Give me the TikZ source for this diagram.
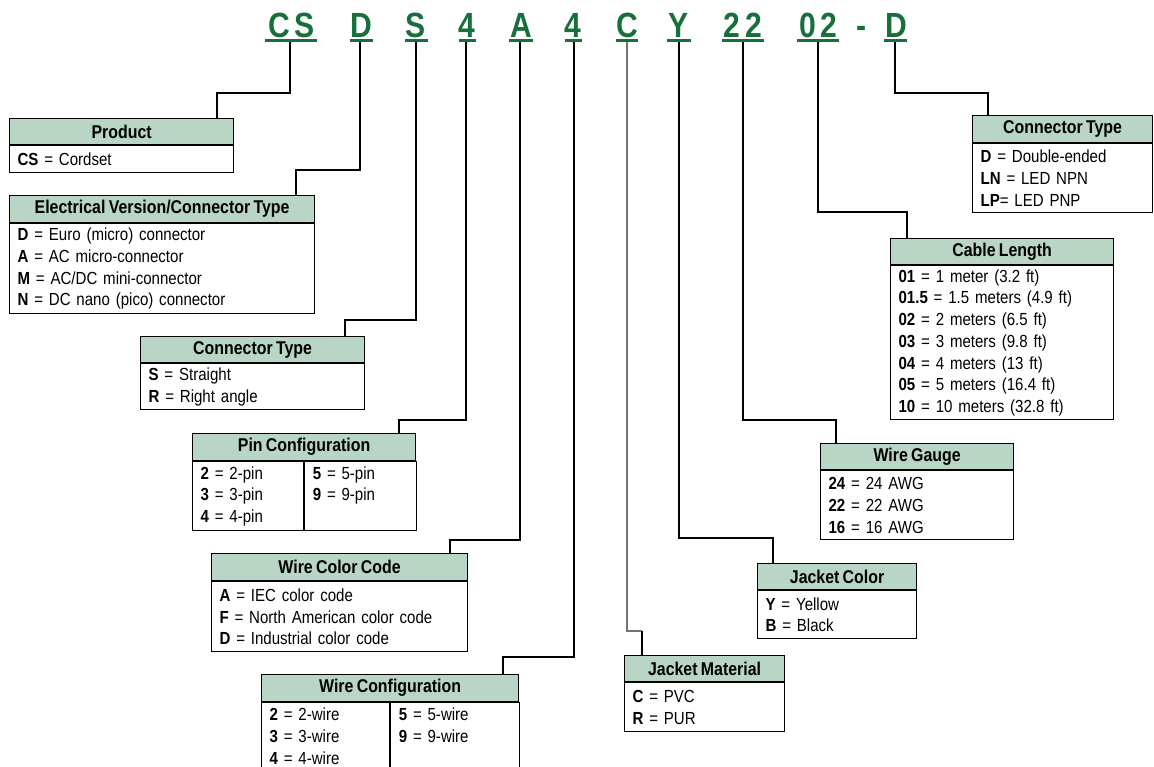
\documentclass[tikz,border=0pt]{standalone}
\usepackage{fontspec}
\setmainfont{Liberation Sans}[FakeStretch=0.86, WordSpace=0.75]
\usetikzlibrary{calc}
\definecolor{codegreen}{HTML}{17703C}
\definecolor{hdrfill}{HTML}{B9D5C5}
\tikzset{
  hdr/.style={draw, line width=1.2pt, fill=hdrfill, inner sep=0pt, anchor=north west,
    font=\bfseries\fontsize{18.5}{21}\selectfont},
  bdy/.style={draw, line width=1.2pt, fill=white, inner xsep=8pt, inner ysep=0pt, align=left,
    anchor=north west, font=\fontsize{17.5}{21.7}\selectfont},
  conn/.style={line width=2.4pt, line join=miter},
  gconn/.style={line width=1.6pt, draw=black!55},
  code/.style={text=codegreen, font=\bfseries\fontsize{35}{35}\selectfont, anchor=base, inner sep=0pt},
  uline/.style={draw=codegreen, line width=2.6pt},
}
\newcommand{\cbox}[8]{%
  \pgfmathsetlengthmacro{\tw}{#4-16}%
  \node[hdr, minimum width=#4, minimum height=#5] (#1h) at (#2,#3) {#7};
  \node[bdy, text width=\tw, minimum height=#6] (#1b) at (#1h.south west) {#8};}
\newcommand{\cboxtwo}[9]{%
  \pgfmathsetlengthmacro{\tw}{#4-16}%
  \pgfmathsetlengthmacro{\twr}{#5-16}%
  \pgfmathsetlengthmacro{\wsum}{#4+#5}%
  \node[hdr, minimum width=\wsum, minimum height=27] (#1h) at (#2,#3) {#7};
  \node[bdy, text width=\tw, minimum height=#6] (#1l) at (#1h.south west) {#8};
  \node[bdy, text width=\twr, minimum height=#6] (#1r) at (#1l.north east) {#9};}
\begin{document}
\begin{tikzpicture}[x=1pt, y=-1pt]
\useasboundingbox (0,0) rectangle (1154,766);

% code letters
\node[code] (c1) at (279,37) {C};
\node[code] (c2) at (305,37) {S};
\node[code] (c3) at (361,37) {D};
\node[code] (c4) at (416,37) {S};
\node[code] (c5) at (467,37) {4};
\node[code] (c6) at (521,37) {A};
\node[code] (c7) at (573,37) {4};
\node[code] (c8) at (627,37) {C};
\node[code] (c9) at (679,37) {Y};
\node[code] (c10) at (732,37) {2};
\node[code] (c11) at (754,37) {2};
\node[code] (c12) at (808,37) {0};
\node[code] (c13) at (829,37) {2};
\node[code] (c14) at (862,37) {-};
\node[code] (c15) at (896,37) {D};

\draw[uline] (265,40.5) -- (317,40.5);
\draw[uline] (350,40.5) -- (373,40.5);
\draw[uline] (405,40.5) -- (428,40.5);
\draw[uline] (459,40.5) -- (476,40.5);
\draw[uline] (509,40.5) -- (533,40.5);
\draw[uline] (565,40.5) -- (582,40.5);
\draw[uline] (616,40.5) -- (638,40.5);
\draw[uline] (667,40.5) -- (691,40.5);
\draw[uline] (722,40.5) -- (764,40.5);
\draw[uline] (797,40.5) -- (839,40.5);
\draw[uline] (884,40.5) -- (907,40.5);

\coordinate (t1) at (290,42);
\coordinate (t2) at (360,42);
\coordinate (t3) at (416,42);
\coordinate (t4) at (466,42);
\coordinate (t5) at (520,42);
\coordinate (t6) at (574,42);
\coordinate (t7) at (627,42);
\coordinate (t8) at (679,42);
\coordinate (t9) at (743,42);
\coordinate (t10) at (818,42);
\coordinate (t11) at (895,42);

% boxes
\cbox{prod}{9}{118}{224}{26}{27}{Product}{\textbf{CS} = Cordset}
\cbox{elec}{9}{195}{305}{27}{90}{Electrical Version/Connector Type}%
  {\textbf{D} = Euro (micro) connector\\ \textbf{A} = AC micro-connector\\ \textbf{M} = AC/DC mini-connector\\ \textbf{N} = DC nano (pico) connector}
\cbox{ctl}{140}{336}{224}{26}{46}{Connector Type}%
  {\textbf{S} = Straight\\ \textbf{R} = Right angle}
\cboxtwo{pin}{192}{433}{111}{112}{69}{Pin Configuration}%
  {\textbf{2} = 2-pin\\ \textbf{3} = 3-pin\\ \textbf{4} = 4-pin}%
  {\textbf{5} = 5-pin\\ \textbf{9} = 9-pin\\ \phantom{\textbf{4} = 4-pin}}
\cbox{wcc}{211}{553}{256}{27}{70}{Wire Color Code}%
  {\textbf{A} = IEC color code\\ \textbf{F} = North American color code\\ \textbf{D} = Industrial color code}
\cboxtwo{wcf}{261}{674}{128}{129}{67}{Wire Configuration}%
  {\textbf{2} = 2-wire\\ \textbf{3} = 3-wire\\ \textbf{4} = 4-wire}%
  {\textbf{5} = 5-wire\\ \textbf{9} = 9-wire\\ \phantom{\textbf{4} = 4-wire}}
\cbox{jm}{624}{655}{160}{26}{49}{Jacket Material}%
  {\textbf{C} = PVC\\ \textbf{R} = PUR}
\cbox{jc}{757}{563}{159}{26}{48}{Jacket Color}%
  {\textbf{Y} = Yellow\\ \textbf{B} = Black}
\cbox{wg}{820}{443}{193}{26}{69}{Wire Gauge}%
  {\textbf{24} = 24 AWG\\ \textbf{22} = 22 AWG\\ \textbf{16} = 16 AWG}
\cbox{cl}{890}{238}{223}{26}{154}{Cable Length}%
  {\textbf{01} = 1 meter (3.2 ft)\\ \textbf{01.5} = 1.5 meters (4.9 ft)\\ \textbf{02} = 2 meters (6.5 ft)\\ \textbf{03} = 3 meters (9.8 ft)\\ \textbf{04} = 4 meters (13 ft)\\ \textbf{05} = 5 meters (16.4 ft)\\ \textbf{10} = 10 meters (32.8 ft)}
\cbox{ctr}{972}{115}{180}{27}{69}{Connector Type}%
  {\textbf{D} = Double-ended\\ \textbf{LN} = LED NPN\\ \textbf{LP}= LED PNP}

% connectors
\draw[conn] (t1) -- ++(0,51) -| ($(prodh.north west)+(208,0)$);
\draw[conn] (t2) -- ++(0,128) -| ($(elech.north west)+(287,0)$);
\draw[conn] (t3) -- ++(0,278) -| ($(ctlh.north west)+(205,0)$);
\draw[conn] (t4) -- ++(0,378) -| ($(pinh.north west)+(207,0)$);
\draw[conn] (t5) -- ++(0,498) -| ($(wcch.north west)+(239,0)$);
\draw[conn] (t6) -- ++(0,615) -| ($(wcfh.north west)+(242,0)$);
\draw[gconn] (t7) -- ++(0,589) -- ++(15,0) coordinate (cj);
\draw[conn] (cj) -- ($(jmh.north west)+(18,0)$);
\draw[conn] (t8) -- ++(0,496) -| ($(jch.north west)+(16,0)$);
\draw[conn] (t9) -- ++(0,378) -| ($(wgh.north west)+(16,0)$);
\draw[conn] (t10) -- ++(0,170) -| ($(clh.north west)+(17,0)$);
\draw[conn] (t11) -- ++(0,51) -| ($(ctrh.north west)+(16,0)$);
\end{tikzpicture}
\end{document}
